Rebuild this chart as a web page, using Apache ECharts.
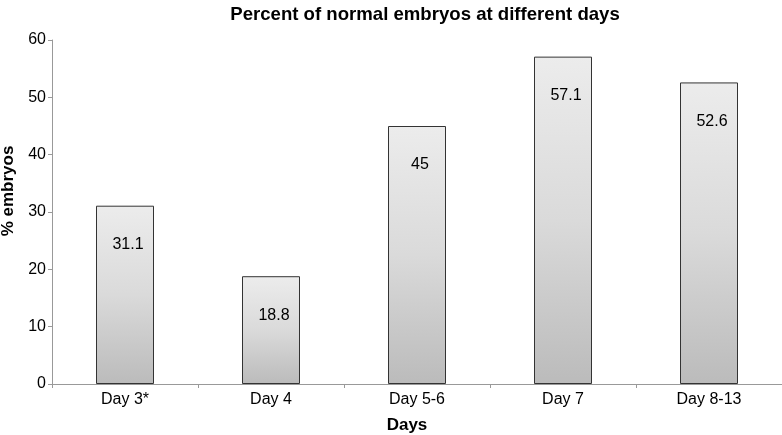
<!DOCTYPE html>
<html><head><meta charset="utf-8">
<script src="https://cdn.jsdelivr.net/npm/echarts@6/dist/echarts.min.js"></script>
<style>html,body{margin:0;padding:0;background:#fff}#c{width:782px;height:435px}</style>
</head><body><div id="c"></div>
<script>
const categories = ['Day 3*', 'Day 4', 'Day 5-6', 'Day 7', 'Day 8-13'];
const values = [31.1, 18.8, 45, 57.1, 52.6];
const yTicks = [0, 10, 20, 30, 40, 50, 60];

const chart = echarts.init(document.getElementById('c'));
const F = 'Liberation Sans, Arial, Helvetica, sans-serif';
chart.setOption({
  animation: false,
  title: { text: 'Percent of normal embryos at different days', left: 420, textAlign: 'center', top: 0,
    textStyle: { fontFamily: F, fontSize: 18.6, fontWeight: 'bold', color: '#000' } },
  grid: { left: 52, right: 0, top: 40, bottom: 51, containLabel: false, outerBoundsMode: 'none' },
  xAxis: {
    type: 'category', data: categories,
    name: 'Days', nameLocation: 'middle', nameGap: 33,
    nameTextStyle: { fontFamily: F, fontSize: 17, fontWeight: 'bold', color: '#000', padding: [0, 20, 0, 0] },
    axisLine: { lineStyle: { color: '#999' } },
    axisTick: { show: true, alignWithLabel: false, length: 4, lineStyle: { color: '#999' } },
    axisLabel: { fontFamily: F, fontSize: 16, color: '#000', margin: 8 }
  },
  yAxis: {
    type: 'value', min: yTicks[0], max: yTicks[yTicks.length - 1], interval: 10,
    name: '% embryos', nameLocation: 'middle', nameGap: 33,
    nameTextStyle: { fontFamily: F, fontSize: 17, fontWeight: 'bold', color: '#000', padding: [0, 0, 0, 42] },
    axisLine: { show: true, lineStyle: { color: '#999' } },
    axisTick: { show: true, length: 4, lineStyle: { color: '#999' } },
    splitLine: { show: false },
    axisLabel: { fontFamily: F, fontSize: 16, color: '#000', margin: 6 }
  },
  series: [{
    type: 'bar', data: values, barWidth: 58,
    itemStyle: {
      borderColor: '#333', borderWidth: 1,
      color: new echarts.graphic.LinearGradient(0, 0, 0, 1, [
        { offset: 0, color: '#ececec' }, { offset: 0.5, color: '#dadada' }, { offset: 1, color: '#bbbbbb' }
      ])
    },
    label: { show: true, position: 'insideTop', distance: 31, fontFamily: F, fontSize: 16, color: '#000',
      formatter: p => String(p.value), offset: [3, 0] }
  }]
});
</script></body></html>
